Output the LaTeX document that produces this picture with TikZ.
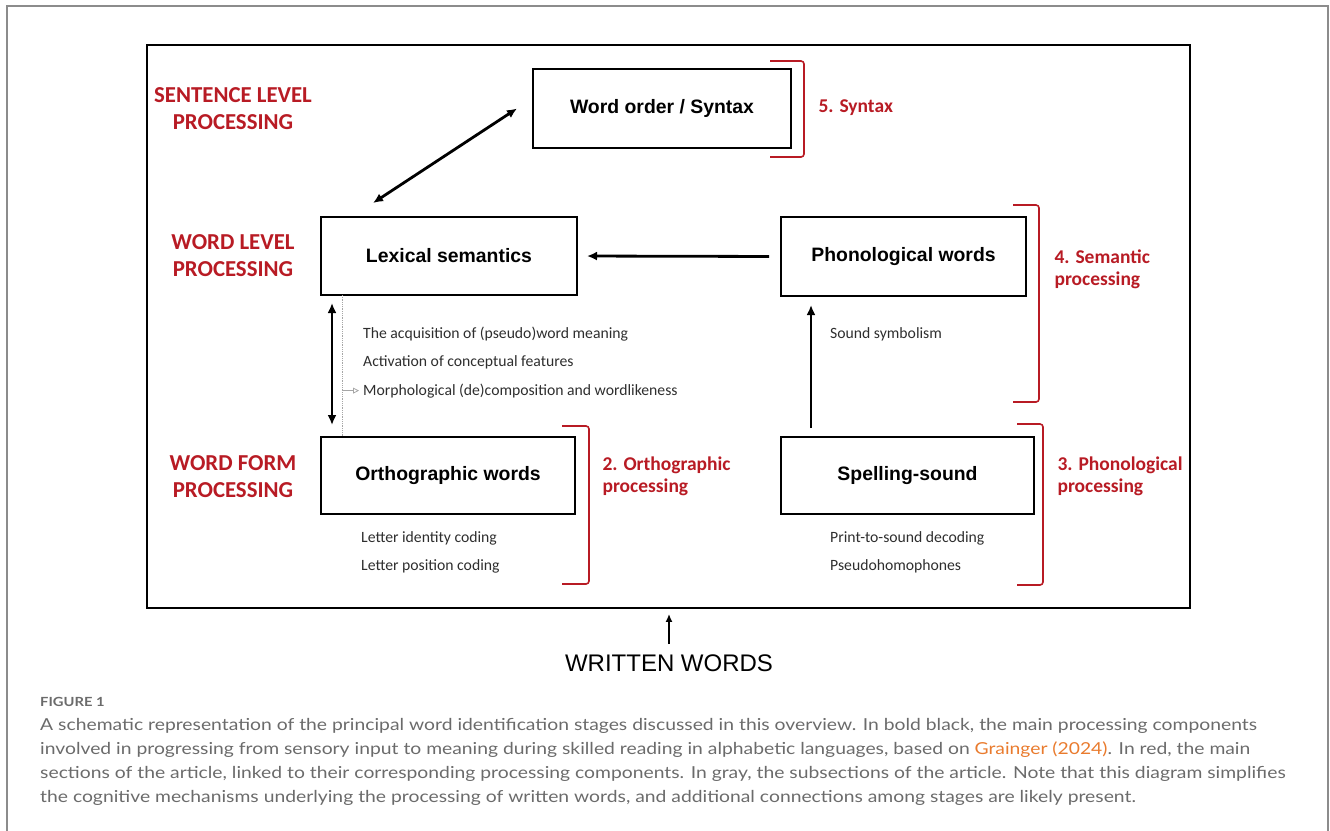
\documentclass[tikz,border=0pt]{standalone}
\usepackage{fontspec}
\setmainfont{Liberation Sans}
\newfontfamily\labelfont{Carlito}
\newfontfamily\captionfont[FakeStretch=1.17]{Lato}
\usetikzlibrary{arrows.meta}

\definecolor{section red}{HTML}{B81B24}
\colorlet{subsection color}{black!82}
\colorlet{tree line color}{black!35}
\colorlet{caption gray}{black!58}
\colorlet{frame gray}{black!45}
\definecolor{citation orange}{HTML}{E97B2E}
\tikzset{
    x={1pt},
    y={-1pt},
    stage box/.style={
        draw, line width={1.8pt},
        inner sep=0pt, outer sep=0pt,
        align=center,
        font={\fontsize{19.4}{22}\selectfont\bfseries},
    },
    level label/.style={
        text=section red,
        align=center,
        font={\labelfont\fontsize{22.8}{27}\selectfont\bfseries},
    },
    section label/.style={
        text=section red,
        anchor=west,
        align=left,
        font={\labelfont\fontsize{19.5}{22}\selectfont\bfseries},
    },
    section bracket/.style={
        draw=section red,
        line width={1.6pt},
        rounded corners={3pt},
    },
    subsection/.style={
        text=subsection color,
        anchor=base west,
        inner sep=0pt,
        font={\labelfont\fontsize{15.7}{17}\selectfont},
    },
    link/.style={
        draw, line width={2.8pt},
        -{Latex[length=10pt,width=9pt]},
    },
    two way link/.style={
        link,
        {Latex[length=10pt,width=9pt]}-{Latex[length=10pt,width=9pt]},
    },
    tree line/.style={
        draw=tree line color, densely dotted,
        line width={0.8pt},
    },
    caption line/.style={
        text=caption gray,
        anchor=base west,
        inner sep=0pt,
        font={\captionfont\fontsize{16.5}{24}\selectfont},
    },
}

\begin{document}
\begin{tikzpicture}
\useasboundingbox (0,0) rectangle (1330,830);
% frames
\draw[draw=frame gray, line width={1.5pt}] (7,850) -- (7,6) -- (1328,6) -- (1328,850);
\node[draw, line width={1.8pt}, minimum width={1043}, minimum height={563}, inner sep=0pt] (frame) at (668.5,326.5) {};
% processing levels
\node[level label] (sentence level) at (233,108.5) {SENTENCE LEVEL\\PROCESSING};
\node[level label] (word level) at (233,255.5) {WORD LEVEL\\PROCESSING};
\node[level label] (word form) at (233,476.5) {WORD FORM\\PROCESSING};
% stages
\node[stage box, minimum width={258}, minimum height={79}] (syntax) at (662,108.5) {Word order / Syntax};
\node[stage box, minimum width={256}, minimum height={78}] (lexsem) at (449,256) {Lexical semantics};
\node[stage box, minimum width={245}, minimum height={79}] (phonwords) at (903.5,256.5) {Phonological words};
\node[stage box, minimum width={254}, minimum height={77}] (orthwords) at (448,475.5) {Orthographic words};
\node[stage box, minimum width={253}, minimum height={77}] (spelling) at (907.5,475.5) {Spelling-sound};
% subsections
\node[subsection] (acquisition) at (363,338) {The acquisition of (pseudo)word meaning};
\node[subsection] (activation) at (363,366) {Activation of conceptual features};
\node[subsection] (morph) at (363,395) {Morphological (de)composition and wordlikeness};
\node[subsection] (symbolism) at (830,338) {Sound symbolism};
\node[subsection] (identity) at (361,542) {Letter identity coding};
\node[subsection] (position) at (361,570) {Letter position coding};
\node[subsection] (decoding) at (830,542) {Print-to-sound decoding};
\node[subsection] (homophones) at (830,570) {Pseudohomophones};
% article sections
\draw[section bracket] (770,61) -- (804,61) -- (804,157) -- (770,157);
\draw[section bracket] (1013,205) -- (1039,205) -- (1039,402) -- (1013,402);
\draw[section bracket] (562,426) -- (589,426) -- (589,584) -- (562,584);
\draw[section bracket] (1017,424) -- (1043,424) -- (1043,585) -- (1017,585);
\node[section label] (syntax section) at (815,108) {5. Syntax};
\node[section label] (semantic section) at (1051,269) {4. Semantic\\processing};
\node[section label] (orth section) at (599,476) {2. Orthographic\\processing};
\node[section label] (phon section) at (1054,476) {3. Phonological\\processing};
% links
\draw[two way link] ([shift={(52,-14)}]lexsem.north west) -- ([xshift=-16]syntax.west);
\draw[link, shorten <=12pt, shorten >=10pt] (phonwords.west) -- (lexsem.east);
\draw[two way link, shorten <=8pt, shorten >=12pt] ([xshift=11]lexsem.south west) -- ([xshift=11]orthwords.north west);
\draw[link, shorten <=9pt, shorten >=9pt] ([xshift=30]spelling.north west) -- ([xshift=30]phonwords.south west);
\coordinate (spine) at ([xshift=21]lexsem.south west);
\draw[tree line] (spine) -- (spine |- orthwords.north);
\draw[tree line, solid, -{Triangle[open,length=6pt,width=6pt]}, shorten >=4pt] (spine |- morph.west) -- (morph.west);
% input
\node[inner sep=0pt, anchor=base, font={\fontsize{24}{28}\selectfont}] (written) at (669,671) {WRITTEN WORDS};
\draw[link, line width={1.8pt}, -{Latex[length=8pt,width=7pt]}, shorten <=10pt, shorten >=5pt] (written.north) -- (written.north |- frame.south);
% caption
\node[caption line, font={\captionfont\fontsize{12.6}{16}\selectfont\bfseries}] (figure label) at (40,706) {FIGURE 1};
\node[caption line] (caption a) at (40,730) {A schematic representation of the principal word identification stages discussed in this overview. In bold black, the main processing components};
\node[caption line] (caption b) at (40,754) {involved in progressing from sensory input to meaning during skilled reading in alphabetic languages, based on \textcolor{citation orange}{Grainger (2024)}. In red, the main};
\node[caption line] (caption c) at (40,778) {sections of the article, linked to their corresponding processing components. In gray, the subsections of the article. Note that this diagram simplifies};
\node[caption line] (caption d) at (40,802) {the cognitive mechanisms underlying the processing of written words, and additional connections among stages are likely present.};
\end{tikzpicture}
\end{document}
